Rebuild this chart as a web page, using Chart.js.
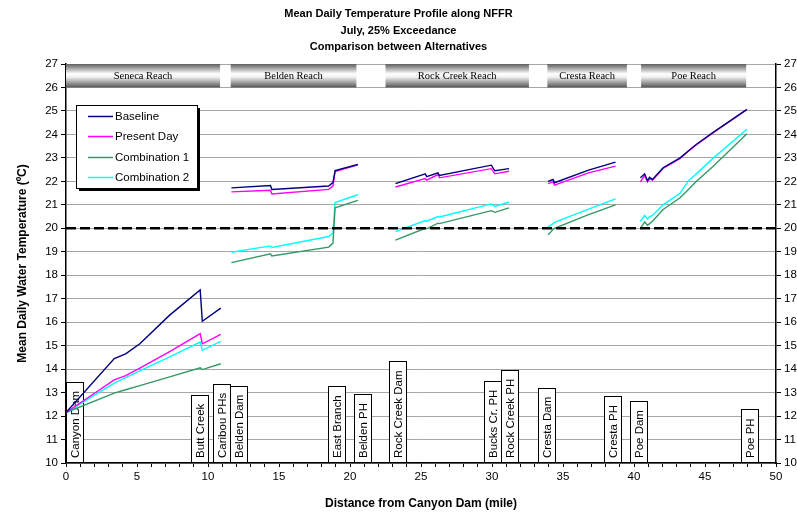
<!DOCTYPE html>
<html>
<head>
<meta charset="utf-8">
<script src="https://cdn.jsdelivr.net/npm/chart.js@4.4.1/dist/chart.umd.min.js"></script>
<style>
  html, body { margin: 0; padding: 0; background: #fff; }
  #wrap { width: 797px; height: 514px; }
</style>
</head>
<body>
<div id="wrap"><canvas id="profilChart" width="797" height="514"></canvas></div>
<script>
// distance from Canyon Dam (mile) -- null rows break the line between reaches
const miles = [
  0, 3.4, 4.2, 5.2, 7.3, 9.45, 9.6, 10.9,
  11.2,
  11.65, 14.4, 14.5, 18.5, 18.8, 18.95, 20.55,
  21.9,
  23.2, 25.3, 25.4, 26.2, 26.3, 29.95, 30.2, 31.2,
  32.6,
  33.95, 34.3, 34.4, 36.8, 38.7,
  39.6,
  40.45, 40.75, 40.95, 41.1, 41.3, 42.05, 43.25, 43.8, 44.4, 45.6, 47.95
];
const baseline = [
  12.15, 14.45, 14.65, 15.08, 16.3, 17.37, 16.04, 16.6,
  null,
  21.72, 21.82, 21.65, 21.8, 21.95, 22.46, 22.72,
  null,
  21.9, 22.32, 22.2, 22.36, 22.25, 22.69, 22.45, 22.54,
  null,
  22.0, 22.08, 21.94, 22.48, 22.82,
  null,
  22.15, 22.32, 22.03, 22.17, 22.08, 22.58, 23.0, 23.28, 23.58, 24.1, 25.07
];
const presentDay = [
  12.15, 13.54, 13.72, 14.04, 14.75, 15.51, 15.08, 15.48,
  null,
  21.55, 21.62, 21.46, 21.66, 21.8, 22.42, 22.7,
  null,
  21.76, 22.12, 22.05, 22.29, 22.15, 22.54, 22.32, 22.43,
  null,
  21.9, 21.98, 21.84, 22.36, 22.65,
  null,
  21.98, 22.25, 21.98, 22.12, 22.05, 22.55, 22.98, 23.27, 23.56, 24.08, 25.05
];
const combination1 = [
  12.15, 12.98, 13.12, 13.3, 13.67, 14.06, 13.98, 14.23,
  null,
  18.54, 18.91, 18.82, 19.2, 19.37, 20.87, 21.19,
  null,
  19.5, 20.0, 19.98, 20.22, 20.2, 20.75, 20.68, 20.87,
  null,
  19.72, 19.95, 20.0, 20.58, 21.0,
  null,
  20.0, 20.27, 20.13, 20.2, 20.3, 20.8, 21.3, 21.63, 22.0, 22.65, 24.03
];
const combination2 = [
  12.15, 13.4, 13.64, 13.93, 14.52, 15.15, 14.8, 15.18,
  null,
  18.98, 19.25, 19.18, 19.65, 19.8, 21.1, 21.43,
  null,
  19.86, 20.33, 20.3, 20.5, 20.48, 21.04, 20.93, 21.12,
  null,
  20.05, 20.2, 20.25, 20.82, 21.25,
  null,
  20.29, 20.55, 20.4, 20.5, 20.55, 21.0, 21.5, 22.0, 22.33, 23.0, 24.22
];
const seriesNames = ['Baseline', 'Present Day', 'Combination 1', 'Combination 2'];
const criterionTemp = 20;

// Reaches (mile from / to)
const reachNames = ['Seneca Reach', 'Belden Reach', 'Rock Creek Reach', 'Cresta Reach', 'Poe Reach'];
const reachFrom = [0, 11.6, 22.5, 33.9, 40.5];
const reachTo = [10.85, 20.45, 32.6, 39.5, 47.9];

// Orte entlang des Flusses (mile)
const siteNames = ['Canyon Dam', 'Butt Creek', 'Caribou PHs', 'Belden Dam', 'East Branch', 'Belden PH',
  'Rock Creek Dam', 'Bucks Cr. PH', 'Rock Creek PH', 'Cresta Dam', 'Cresta PH', 'Poe Dam', 'Poe PH'];
const siteMile = [0.63, 9.44, 11.02, 12.18, 19.05, 20.94, 23.35, 30.1, 31.3, 33.9, 38.5, 40.35, 48.2];

const farben = ['#000080', '#ff00ff', '#339966', '#00ffff'];
const FONT = "'Liberation Sans', Arial, sans-serif";

// === Reach-Balken und Ortsschilder ===
const ortePlugin = {
  id: 'orte',
  beforeDatasetsDraw(chart) {
    const { ctx, scales: { x, y } } = chart;
    ctx.save();
    const top = y.getPixelForValue(27);
    const bot = y.getPixelForValue(26);
    reachNames.forEach((name, i) => {
      const x0 = x.getPixelForValue(reachFrom[i]);
      const x1 = x.getPixelForValue(reachTo[i]);
      const g = ctx.createLinearGradient(0, top, 0, bot);
      g.addColorStop(0, '#5e5e5e');
      g.addColorStop(0.42, '#fff');
      g.addColorStop(0.55, '#f2f2f2');
      g.addColorStop(1, '#555');
      ctx.fillStyle = g;
      ctx.fillRect(x0, top, x1 - x0, bot - top);
      ctx.fillStyle = '#000';
      ctx.font = "10.5px 'Liberation Serif', 'Times New Roman', serif";
      ctx.textAlign = 'center';
      ctx.textBaseline = 'middle';
      ctx.fillText(name, (x0 + x1) / 2, (top + bot) / 2 + 0.5);
    });

    const base = y.getPixelForValue(10);
    ctx.font = '11.5px ' + FONT;
    siteNames.forEach((name, i) => {
      const cx = Math.round(x.getPixelForValue(siteMile[i]));
      const h = Math.round(ctx.measureText(name).width + 14);
      ctx.fillStyle = '#fff';
      ctx.fillRect(cx - 9, base - h, 18, h);
      ctx.strokeStyle = '#000';
      ctx.lineWidth = 1;
      ctx.strokeRect(cx - 8.5, base - h + 0.5, 17, h - 1);
      ctx.save();
      ctx.translate(cx + 0.5, base - 5);
      ctx.rotate(-Math.PI / 2);
      ctx.fillStyle = '#000';
      ctx.textAlign = 'left';
      ctx.textBaseline = 'middle';
      ctx.fillText(name, 0, 0);
      ctx.restore();
    });
    ctx.restore();
  }
};

// === Legende im Diagramm ===
const legendePlugin = {
  id: 'legende',
  afterDatasetsDraw(chart) {
    const { ctx, chartArea } = chart;
    const left = chartArea.left + 10, top = chartArea.top + 41, w = 121, h = 83;
    ctx.save();
    ctx.fillStyle = '#000';
    ctx.fillRect(left + 3, top + 3, w, h);
    ctx.fillStyle = '#fff';
    ctx.fillRect(left, top, w, h);
    ctx.strokeStyle = '#000';
    ctx.lineWidth = 1;
    ctx.strokeRect(left + 0.5, top + 0.5, w, h);
    ctx.font = '11.5px ' + FONT;
    ctx.textBaseline = 'middle';
    chart.data.datasets.slice(0, 4).forEach((ds, i) => {
      const yy = Math.round(top + 11 + i * 20.4) + 0.5;
      ctx.strokeStyle = ds.borderColor;
      ctx.lineWidth = 1.5;
      ctx.beginPath();
      ctx.moveTo(left + 12, yy);
      ctx.lineTo(left + 37, yy);
      ctx.stroke();
      ctx.fillStyle = '#000';
      ctx.fillText(ds.label, left + 39, yy);
    });
    ctx.restore();
  }
};

const alleSerien = [baseline, presentDay, combination1, combination2];
const datasets = alleSerien.map((werte, i) => ({
  label: seriesNames[i],
  data: miles.map((m, j) => ({ x: m, y: werte[j] })),
  borderColor: farben[i],
  backgroundColor: farben[i],
  borderWidth: 1.4,
  pointRadius: 0,
  tension: 0,
  spanGaps: false,
  order: 1
}));
datasets.push({
  label: 'Kriterium',
  data: [{ x: 0, y: criterionTemp }, { x: 50, y: criterionTemp }],
  borderColor: '#000',
  borderWidth: 2.5,
  borderDash: [10, 4],
  pointRadius: 0,
  order: 0
});

const tickFont = { family: FONT, size: 11.5 };

new Chart(document.getElementById('profilChart'), {
  type: 'line',
  data: { datasets: datasets },
  options: {
    responsive: false,
    animation: false,
    devicePixelRatio: 1,
    layout: { padding: { left: 0, right: 0, top: 0, bottom: 0 } },
    scales: {
      x: {
        type: 'linear',
        min: 0,
        max: 50,
        afterFit(s) { s.height = 51; },
        ticks: {
          stepSize: 1,
          autoSkip: false,
          maxRotation: 0,
          color: '#000',
          font: tickFont,
          padding: 3,
          callback: v => (v % 5 === 0 ? v : '')
        },
        grid: { drawOnChartArea: false, tickLength: 4, tickColor: '#000' },
        border: { color: '#000', width: 1.5 },
        title: {
          display: true,
          text: 'Distance from Canyon Dam (mile)',
          color: '#000',
          font: { family: FONT, size: 12, weight: 'bold' },
          padding: { top: 0, bottom: 3 }
        }
      },
      y: {
        min: 10,
        max: 27,
        afterFit(s) { s.width = 66; },
        ticks: { stepSize: 1, color: '#000', font: tickFont, padding: 3 },
        grid: { color: '#a6a6a6', tickColor: '#000', tickLength: 5 },
        border: { color: '#000', width: 1.5 },
        title: {
          display: true,
          text: 'Mean Daily Water Temperature (ºC)',
          color: '#000',
          font: { family: FONT, size: 12, weight: 'bold' },
          padding: { top: 15, bottom: 0 }
        }
      },
      y1: {
        position: 'right',
        min: 10,
        max: 27,
        afterFit(s) { s.width = 21; },
        ticks: { stepSize: 1, color: '#000', font: tickFont, padding: 3 },
        grid: { drawOnChartArea: false, tickColor: '#000', tickLength: 5 },
        border: { color: '#000', width: 1.5 }
      }
    },
    plugins: {
      legend: { display: false },
      tooltip: { enabled: false },
      title: {
        display: true,
        text: ['Mean Daily Temperature Profile along NFFR', 'July, 25% Exceedance', 'Comparison between Alternatives'],
        color: '#000',
        font: { family: FONT, size: 11, weight: 'bold', lineHeight: 1.5 },
        padding: { top: 6, bottom: 8.5 }
      }
    }
  },
  plugins: [ortePlugin, legendePlugin]
});
</script>
</body>
</html>
